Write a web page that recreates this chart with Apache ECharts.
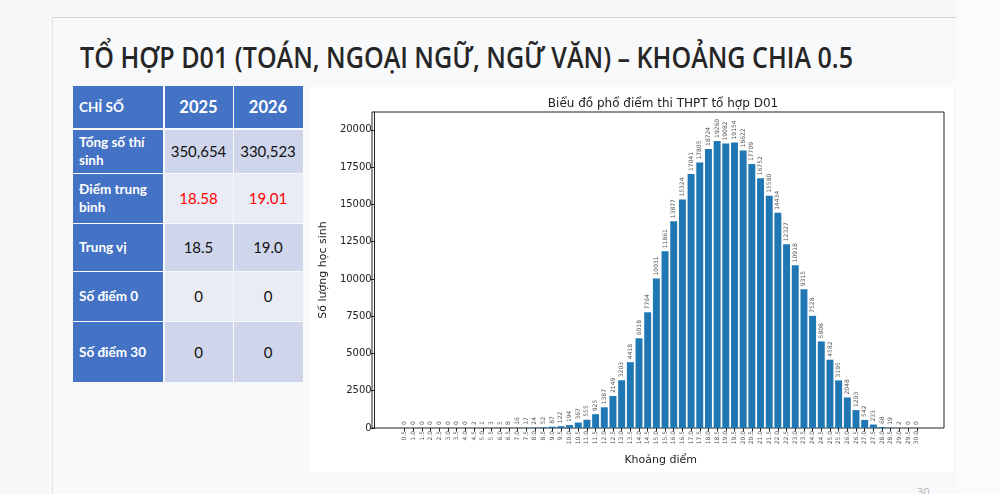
<!DOCTYPE html>
<html>
<head>
<meta charset="utf-8">
<script src="https://cdn.jsdelivr.net/npm/echarts@6/dist/echarts.min.js"></script>
<style>
  html, body { margin:0; padding:0; }
  body { width:1000px; height:494px; overflow:hidden; background:#f6f7f9; position:relative; font-family:'Lato','Open Sans',sans-serif; }
  #rightstrip { position:absolute; left:955px; top:0; width:45px; height:494px; background:#fbfbfc; }
  #slide { position:absolute; left:52px; top:17px; width:903px; height:477px; background:#f8f9fb; border-top:1px solid #d4d4d4; border-left:1px solid #e4e4e4; }
  #title { position:absolute; left:80px; top:43px; font-family:'Open Sans',sans-serif; font-weight:600; font-size:28px; line-height:28px; color:#262626; white-space:nowrap; transform-origin:0 0; }
  .cell { position:absolute; box-sizing:border-box; display:flex; align-items:center; white-space:pre-line; }
  .hd { background:#4472C4; color:#fff; font-weight:700; }
  .c1 { background:#CFD5EA; color:#111; justify-content:center; font-size:15px; }
  .c2 { background:#E9EBF5; color:#111; justify-content:center; font-size:15px; }
  #chart { position:absolute; left:310px; top:87px; width:643px; height:385px; background:#ffffff; }
  #pnum { position:absolute; left:917px; top:484px; font-size:11px; color:#b5b5b5; font-family:'Open Sans',sans-serif; }
</style>
</head>
<body>
<div id="rightstrip"></div>
<div id="slide"></div>
<div id="title">TỔ HỢP D01 (TOÁN, NGOẠI NGỮ, NGỮ VĂN) – KHOẢNG CHIA 0.5</div>
<div id="table"></div>
<div id="chart"></div>
<div id="pnum">30</div>
<script>
// ---------- data ----------
const categories = ['0.5','1.0','1.5','2.0','2.5','3.0','3.5','4.0','4.5','5.0',
  '5.5','6.0','6.5','7.0','7.5','8.0','8.5','9.0','9.5','10.0',
  '10.5','11.0','11.5','12.0','12.5','13.0','13.5','14.0','14.5','15.0',
  '15.5','16.0','16.5','17.0','17.5','18.0','18.5','19.0','19.5','20.0',
  '20.5','21.0','21.5','22.0','22.5','23.0','23.5','24.0','24.5','25.0',
  '25.5','26.0','26.5','27.0','27.5','28.0','28.5','29.0','29.5','30.0'];
const counts = [0,0,0,0,0,0,0,0,2,1,
  3,5,8,16,17,24,52,87,122,194,
  367,555,925,1387,2149,3203,4418,6018,7764,10031,
  11861,13877,15324,17041,17805,18724,19260,19082,19154,18622,
  17709,16752,15580,14434,12327,10918,9315,7528,5808,4582,
  3195,2048,1203,542,233,68,19,2,0,0];
const yTicks = [0,2500,5000,7500,10000,12500,15000,17500,20000];

const tableHeader = ['CHỈ SỐ','2025','2026'];
const rowLabels = ['Tổng số thí\nsinh','Điểm trung\nbình','Trung vị','Số điểm 0','Số điểm 30'];
const col2025 = ['350,654','18.58','18.5','0','0'];
const col2026 = ['330,523','19.01','19.0','0','0'];
const redRow = 1;

// ---------- title fit ----------
(function(){
  const t = document.getElementById('title');
  const w = t.getBoundingClientRect().width;
  t.style.transform = 'scaleX(' + (773 / w) + ')';
})();

// ---------- table ----------
(function(){
  const tb = document.getElementById('table');
  const colX = [73, 164.5, 233.5], colW = [90, 68, 69];
  const rowY = [86, 130, 173.5, 223.5, 271.5, 322], rowH = [42, 42.5, 49, 47.5, 49.5, 60];
  function add(x, y, w, h, cls, text, style) {
    const d = document.createElement('div');
    d.className = 'cell ' + cls;
    d.style.left = x + 'px'; d.style.top = y + 'px';
    d.style.width = w + 'px'; d.style.height = h + 'px';
    d.textContent = text;
    Object.assign(d.style, style || {});
    tb.appendChild(d);
  }
  add(colX[0], rowY[0], colW[0], rowH[0], 'hd', tableHeader[0], {paddingLeft:'6px', fontSize:'13.5px'});
  add(colX[1], rowY[0], colW[1], rowH[0], 'hd', tableHeader[1], {justifyContent:'center', fontSize:'16.5px'});
  add(colX[2], rowY[0], colW[2], rowH[0], 'hd', tableHeader[2], {justifyContent:'center', fontSize:'16.5px'});
  for (let i = 0; i < rowLabels.length; i++) {
    const cls = (i % 2 === 0) ? 'c1' : 'c2';
    add(colX[0], rowY[i+1], colW[0], rowH[i+1], 'hd', rowLabels[i], {paddingLeft:'6px', fontSize:'13.5px', lineHeight:'18px'});
    const st = i === redRow ? {color:'#ff0000'} : {};
    add(colX[1], rowY[i+1], colW[1], rowH[i+1], cls, col2025[i], st);
    add(colX[2], rowY[i+1], colW[2], rowH[i+1], cls, col2026[i], st);
  }
})();

// ---------- chart ----------
const chart = echarts.init(document.getElementById('chart'), null, {renderer:'canvas'});
const FF = 'DejaVu Sans';
chart.setOption({
  animation: false,
  backgroundColor: '#ffffff',
  title: {
    text: 'Biểu đồ phổ điểm thi THPT tổ hợp D01',
    left: 348, top: 6, textAlign: 'center',
    textStyle: { fontFamily: FF, fontSize: 12, fontWeight: 'normal', color: '#222' }
  },
  grid: [
    { left: 62, right: 9, top: 25, bottom: 44, show: true, borderColor: '#222', borderWidth: 1, backgroundColor: 'transparent' },
    { left: 87.6, right: 31.9, top: 25, bottom: 44 }
  ],
  xAxis: [
    { gridIndex: 0, type: 'value', min: 0, max: 1, show: false },
    {
      gridIndex: 1, type: 'category', data: categories, boundaryGap: true,
      axisLine: { show: false },
      axisTick: { show: true, alignWithLabel: true, interval: 0, length: 3.5, lineStyle: { color: '#222' } },
      axisLabel: { interval: 0, rotate: 90, fontSize: 6, color: '#555', margin: 3, fontFamily: FF },
      name: 'Khoảng điểm', nameLocation: 'middle', nameGap: 27,
      nameTextStyle: { fontFamily: FF, fontSize: 11, color: '#222' }
    }
  ],
  yAxis: [
    { gridIndex: 0, type: 'value', min: 0, max: 1, show: false },
    {
      gridIndex: 1, type: 'value', min: 0, max: 21200, interval: 2500, offset: 25.6,
      axisLine: { show: true, lineStyle: { color: '#222' } },
      axisTick: { show: true, length: 4, lineStyle: { color: '#222' }, customValues: yTicks },
      splitLine: { show: false },
      axisLabel: { fontSize: 10, color: '#222', margin: 3, fontFamily: FF, customValues: yTicks,
        formatter: v => (yTicks.indexOf(v) >= 0 ? String(v) : '') },
      name: 'Số lượng học sinh', nameLocation: 'middle', nameGap: 42,
      nameTextStyle: { fontFamily: FF, fontSize: 11, color: '#222' }
    }
  ],
  series: [{
    type: 'bar', xAxisIndex: 1, yAxisIndex: 1, data: counts, barWidth: '80%',
    itemStyle: { color: '#1f77b4' },
    label: { show: true, position: 'top', rotate: 90, align: 'left', verticalAlign: 'middle',
      distance: 3, fontSize: 6, color: '#555', fontFamily: FF }
  }]
});
</script>
</body>
</html>
